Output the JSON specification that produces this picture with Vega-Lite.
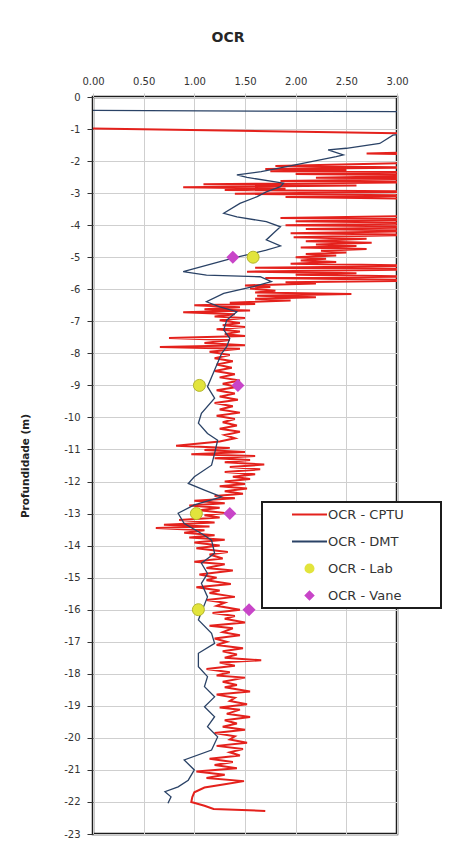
{
  "$schema": "https://vega.github.io/schema/vega-lite/v6.json",
  "width": 304,
  "height": 737,
  "autosize": {"type": "none"},
  "padding": {"left": 93, "top": 97, "right": 77, "bottom": 27},
  "background": "white",
  "title": {"text": "OCR", "font": "DejaVu Sans", "fontSize": 14, "fontWeight": "bold", "color": "#262626", "offset": 31, "dx": -17, "anchor": "middle"},
  "config": {
    "view": {"stroke": "#1c1c1c", "strokeWidth": 2.5},
    "axis": {"labelFont": "DejaVu Sans", "labelFontSize": 10, "labelColor": "#333333", "gridColor": "#cfcfcf", "gridWidth": 1, "domain": false}
  },
  "datasets": {
    "cptu": [
      {"depth": -0.98, "ocr": 0}, {"depth": -1.15, "ocr": 3.3}, {"depth": -1.3, "ocr": 3.6}, {"depth": -1.5, "ocr": 3.4},
      {"depth": -1.7, "ocr": 3.5}, {"depth": -1.76, "ocr": 2.7}, {"depth": -1.8, "ocr": 3.4}, {"depth": -1.95, "ocr": 3.6},
      {"depth": -2.05, "ocr": 3.2}, {"depth": -2.15, "ocr": 1.8}, {"depth": -2.2, "ocr": 3.3}, {"depth": -2.25, "ocr": 1.7},
      {"depth": -2.28, "ocr": 2.5}, {"depth": -2.32, "ocr": 1.75}, {"depth": -2.35, "ocr": 3.4}, {"depth": -2.4, "ocr": 2.0},
      {"depth": -2.45, "ocr": 3.5}, {"depth": -2.52, "ocr": 2.2}, {"depth": -2.55, "ocr": 3.6}, {"depth": -2.62, "ocr": 1.85},
      {"depth": -2.66, "ocr": 3.2}, {"depth": -2.72, "ocr": 1.09}, {"depth": -2.76, "ocr": 2.6}, {"depth": -2.82, "ocr": 0.89},
      {"depth": -2.86, "ocr": 1.9}, {"depth": -2.9, "ocr": 1.3}, {"depth": -2.95, "ocr": 3.4}, {"depth": -3.02, "ocr": 1.4},
      {"depth": -3.08, "ocr": 3.5}, {"depth": -3.12, "ocr": 1.9}, {"depth": -3.18, "ocr": 3.3}, {"depth": -3.3, "ocr": 3.6},
      {"depth": -3.5, "ocr": 3.8}, {"depth": -3.7, "ocr": 3.5}, {"depth": -3.78, "ocr": 1.85}, {"depth": -3.82, "ocr": 3.4},
      {"depth": -3.88, "ocr": 2.0}, {"depth": -3.93, "ocr": 3.5}, {"depth": -4.0, "ocr": 1.9}, {"depth": -4.05, "ocr": 3.6},
      {"depth": -4.12, "ocr": 2.1}, {"depth": -4.18, "ocr": 3.4}, {"depth": -4.25, "ocr": 1.95}, {"depth": -4.3, "ocr": 3.2},
      {"depth": -4.38, "ocr": 1.98}, {"depth": -4.42, "ocr": 2.7}, {"depth": -4.5, "ocr": 2.1}, {"depth": -4.55, "ocr": 2.75},
      {"depth": -4.6, "ocr": 2.2}, {"depth": -4.65, "ocr": 2.6}, {"depth": -4.7, "ocr": 2.05}, {"depth": -4.74, "ocr": 2.7},
      {"depth": -4.8, "ocr": 2.25}, {"depth": -4.85, "ocr": 2.5}, {"depth": -4.9, "ocr": 2.1}, {"depth": -4.95, "ocr": 2.4},
      {"depth": -5.0, "ocr": 2.0}, {"depth": -5.05, "ocr": 2.3}, {"depth": -5.1, "ocr": 2.05}, {"depth": -5.15, "ocr": 2.4},
      {"depth": -5.2, "ocr": 1.95}, {"depth": -5.27, "ocr": 3.4}, {"depth": -5.33, "ocr": 1.6}, {"depth": -5.38, "ocr": 3.3},
      {"depth": -5.45, "ocr": 1.52}, {"depth": -5.5, "ocr": 2.6}, {"depth": -5.55, "ocr": 2.0}, {"depth": -5.6, "ocr": 3.2},
      {"depth": -5.65, "ocr": 1.7}, {"depth": -5.72, "ocr": 3.5}, {"depth": -5.78, "ocr": 1.9}, {"depth": -5.82, "ocr": 2.2},
      {"depth": -5.88, "ocr": 1.5}, {"depth": -5.93, "ocr": 1.75}, {"depth": -5.98, "ocr": 1.55}, {"depth": -6.05, "ocr": 1.8},
      {"depth": -6.1, "ocr": 1.6}, {"depth": -6.15, "ocr": 2.55}, {"depth": -6.2, "ocr": 1.62}, {"depth": -6.25, "ocr": 2.2},
      {"depth": -6.3, "ocr": 1.6}, {"depth": -6.35, "ocr": 1.95}, {"depth": -6.42, "ocr": 1.35}, {"depth": -6.46, "ocr": 1.6},
      {"depth": -6.5, "ocr": 1.0}, {"depth": -6.56, "ocr": 1.45}, {"depth": -6.62, "ocr": 1.1}, {"depth": -6.66, "ocr": 1.55},
      {"depth": -6.72, "ocr": 0.89}, {"depth": -6.78, "ocr": 1.4}, {"depth": -6.85, "ocr": 1.2}, {"depth": -6.9, "ocr": 1.5},
      {"depth": -6.97, "ocr": 1.25}, {"depth": -7.05, "ocr": 1.45}, {"depth": -7.12, "ocr": 1.28}, {"depth": -7.18, "ocr": 1.5},
      {"depth": -7.25, "ocr": 1.22}, {"depth": -7.32, "ocr": 1.45}, {"depth": -7.4, "ocr": 1.3}, {"depth": -7.46, "ocr": 1.5},
      {"depth": -7.52, "ocr": 0.75}, {"depth": -7.58, "ocr": 1.35}, {"depth": -7.68, "ocr": 1.1}, {"depth": -7.75, "ocr": 1.5},
      {"depth": -7.8, "ocr": 0.66}, {"depth": -7.86, "ocr": 1.45}, {"depth": -7.95, "ocr": 1.15}, {"depth": -8.05, "ocr": 1.35},
      {"depth": -8.15, "ocr": 1.2}, {"depth": -8.25, "ocr": 1.38}, {"depth": -8.35, "ocr": 1.22}, {"depth": -8.45, "ocr": 1.37},
      {"depth": -8.55, "ocr": 1.2}, {"depth": -8.65, "ocr": 1.4}, {"depth": -8.75, "ocr": 1.25}, {"depth": -8.85, "ocr": 1.45},
      {"depth": -8.95, "ocr": 1.28}, {"depth": -9.05, "ocr": 1.42}, {"depth": -9.15, "ocr": 1.22}, {"depth": -9.25, "ocr": 1.4},
      {"depth": -9.35, "ocr": 1.25}, {"depth": -9.45, "ocr": 1.43}, {"depth": -9.55, "ocr": 1.2}, {"depth": -9.65, "ocr": 1.38},
      {"depth": -9.75, "ocr": 1.25}, {"depth": -9.85, "ocr": 1.45}, {"depth": -9.95, "ocr": 1.22}, {"depth": -10.05, "ocr": 1.4},
      {"depth": -10.15, "ocr": 1.28}, {"depth": -10.25, "ocr": 1.42}, {"depth": -10.35, "ocr": 1.25}, {"depth": -10.45, "ocr": 1.45},
      {"depth": -10.55, "ocr": 1.3}, {"depth": -10.65, "ocr": 1.4}, {"depth": -10.75, "ocr": 1.25}, {"depth": -10.88, "ocr": 0.82},
      {"depth": -10.95, "ocr": 1.35}, {"depth": -11.02, "ocr": 1.1}, {"depth": -11.08, "ocr": 1.5}, {"depth": -11.15, "ocr": 0.97},
      {"depth": -11.2, "ocr": 1.6}, {"depth": -11.27, "ocr": 1.2}, {"depth": -11.33, "ocr": 1.55}, {"depth": -11.4, "ocr": 1.3},
      {"depth": -11.47, "ocr": 1.69}, {"depth": -11.55, "ocr": 1.35}, {"depth": -11.62, "ocr": 1.65}, {"depth": -11.7, "ocr": 1.3},
      {"depth": -11.77, "ocr": 1.6}, {"depth": -11.85, "ocr": 1.38}, {"depth": -11.92, "ocr": 1.55}, {"depth": -12.0, "ocr": 1.3},
      {"depth": -12.08, "ocr": 1.5}, {"depth": -12.15, "ocr": 1.25}, {"depth": -12.22, "ocr": 1.52}, {"depth": -12.3, "ocr": 1.3},
      {"depth": -12.38, "ocr": 1.48}, {"depth": -12.45, "ocr": 1.2}, {"depth": -12.52, "ocr": 1.4}, {"depth": -12.6, "ocr": 1.0},
      {"depth": -12.68, "ocr": 1.3}, {"depth": -12.75, "ocr": 0.95}, {"depth": -12.82, "ocr": 1.25}, {"depth": -12.9, "ocr": 1.05},
      {"depth": -12.98, "ocr": 1.3}, {"depth": -13.05, "ocr": 1.1}, {"depth": -13.12, "ocr": 1.25}, {"depth": -13.2, "ocr": 0.85},
      {"depth": -13.28, "ocr": 1.2}, {"depth": -13.35, "ocr": 0.7}, {"depth": -13.4, "ocr": 1.15}, {"depth": -13.45, "ocr": 0.62},
      {"depth": -13.52, "ocr": 1.1}, {"depth": -13.6, "ocr": 0.9}, {"depth": -13.68, "ocr": 1.2}, {"depth": -13.75, "ocr": 0.95},
      {"depth": -13.82, "ocr": 1.3}, {"depth": -13.9, "ocr": 1.0}, {"depth": -14.0, "ocr": 1.25}, {"depth": -14.08, "ocr": 1.02},
      {"depth": -14.2, "ocr": 1.33}, {"depth": -14.28, "ocr": 1.15}, {"depth": -14.4, "ocr": 1.28}, {"depth": -14.5, "ocr": 1.0},
      {"depth": -14.58, "ocr": 1.3}, {"depth": -14.7, "ocr": 1.12}, {"depth": -14.78, "ocr": 1.38}, {"depth": -14.9, "ocr": 1.05},
      {"depth": -15.0, "ocr": 1.22}, {"depth": -15.08, "ocr": 1.12}, {"depth": -15.2, "ocr": 1.36}, {"depth": -15.3, "ocr": 1.02},
      {"depth": -15.4, "ocr": 1.25}, {"depth": -15.48, "ocr": 1.15}, {"depth": -15.6, "ocr": 1.4}, {"depth": -15.7, "ocr": 1.12},
      {"depth": -15.78, "ocr": 1.3}, {"depth": -15.88, "ocr": 1.22}, {"depth": -16.0, "ocr": 1.45}, {"depth": -16.1, "ocr": 1.18},
      {"depth": -16.2, "ocr": 1.4}, {"depth": -16.28, "ocr": 1.3}, {"depth": -16.4, "ocr": 1.5}, {"depth": -16.5, "ocr": 1.15},
      {"depth": -16.58, "ocr": 1.38}, {"depth": -16.7, "ocr": 1.28}, {"depth": -16.8, "ocr": 1.45}, {"depth": -16.9, "ocr": 1.2},
      {"depth": -17.0, "ocr": 1.32}, {"depth": -17.1, "ocr": 1.22}, {"depth": -17.2, "ocr": 1.48}, {"depth": -17.3, "ocr": 1.28},
      {"depth": -17.4, "ocr": 1.42}, {"depth": -17.5, "ocr": 1.3}, {"depth": -17.58, "ocr": 1.66}, {"depth": -17.65, "ocr": 1.25},
      {"depth": -17.75, "ocr": 1.4}, {"depth": -17.85, "ocr": 1.12}, {"depth": -17.95, "ocr": 1.35}, {"depth": -18.05, "ocr": 1.22},
      {"depth": -18.12, "ocr": 1.5}, {"depth": -18.25, "ocr": 1.28}, {"depth": -18.35, "ocr": 1.42}, {"depth": -18.42, "ocr": 1.3},
      {"depth": -18.55, "ocr": 1.55}, {"depth": -18.65, "ocr": 1.22}, {"depth": -18.75, "ocr": 1.4}, {"depth": -18.85, "ocr": 1.35},
      {"depth": -18.95, "ocr": 1.52}, {"depth": -19.05, "ocr": 1.25}, {"depth": -19.12, "ocr": 1.45}, {"depth": -19.25, "ocr": 1.32},
      {"depth": -19.35, "ocr": 1.55}, {"depth": -19.45, "ocr": 1.3}, {"depth": -19.55, "ocr": 1.42}, {"depth": -19.65, "ocr": 1.28},
      {"depth": -19.75, "ocr": 1.5}, {"depth": -19.85, "ocr": 1.2}, {"depth": -19.95, "ocr": 1.4}, {"depth": -20.05, "ocr": 1.35},
      {"depth": -20.15, "ocr": 1.52}, {"depth": -20.25, "ocr": 1.22}, {"depth": -20.35, "ocr": 1.48}, {"depth": -20.45, "ocr": 1.35},
      {"depth": -20.55, "ocr": 1.45}, {"depth": -20.65, "ocr": 1.15}, {"depth": -20.75, "ocr": 1.38}, {"depth": -20.85, "ocr": 1.2},
      {"depth": -20.95, "ocr": 1.42}, {"depth": -21.05, "ocr": 1.02}, {"depth": -21.15, "ocr": 1.3}, {"depth": -21.25, "ocr": 1.12},
      {"depth": -21.35, "ocr": 1.49}, {"depth": -21.45, "ocr": 1.3}, {"depth": -21.55, "ocr": 1.1}, {"depth": -21.7, "ocr": 1.0},
      {"depth": -21.85, "ocr": 0.98}, {"depth": -22.0, "ocr": 0.97}, {"depth": -22.12, "ocr": 1.1}, {"depth": -22.22, "ocr": 1.19},
      {"depth": -22.28, "ocr": 1.7}
    ],
    "dmt": [
      {"depth": -0.42, "ocr": 0}, {"depth": -0.47, "ocr": 4.0}, {"depth": -0.9, "ocr": 3.6}, {"depth": -1.19, "ocr": 2.96},
      {"depth": -1.45, "ocr": 2.83}, {"depth": -1.6, "ocr": 2.5}, {"depth": -1.65, "ocr": 2.32}, {"depth": -1.81, "ocr": 2.47},
      {"depth": -1.86, "ocr": 2.4}, {"depth": -2.17, "ocr": 1.91}, {"depth": -2.33, "ocr": 1.66}, {"depth": -2.43, "ocr": 1.42},
      {"depth": -2.51, "ocr": 1.52}, {"depth": -2.69, "ocr": 1.88}, {"depth": -2.8, "ocr": 1.85}, {"depth": -2.96, "ocr": 1.71},
      {"depth": -3.11, "ocr": 1.62}, {"depth": -3.32, "ocr": 1.45}, {"depth": -3.63, "ocr": 1.29}, {"depth": -3.74, "ocr": 1.42},
      {"depth": -3.89, "ocr": 1.71}, {"depth": -4.05, "ocr": 1.85}, {"depth": -4.25, "ocr": 1.78}, {"depth": -4.46, "ocr": 1.71},
      {"depth": -4.65, "ocr": 1.85}, {"depth": -4.78, "ocr": 1.71}, {"depth": -4.88, "ocr": 1.58}, {"depth": -5.03, "ocr": 1.38},
      {"depth": -5.19, "ocr": 1.19}, {"depth": -5.45, "ocr": 0.89}, {"depth": -5.56, "ocr": 1.12}, {"depth": -5.61, "ocr": 1.65},
      {"depth": -5.76, "ocr": 1.76}, {"depth": -5.92, "ocr": 1.58}, {"depth": -6.13, "ocr": 1.29}, {"depth": -6.39, "ocr": 1.12},
      {"depth": -6.55, "ocr": 1.25}, {"depth": -6.7, "ocr": 1.42}, {"depth": -6.96, "ocr": 1.32}, {"depth": -7.27, "ocr": 1.29},
      {"depth": -7.53, "ocr": 1.35}, {"depth": -7.79, "ocr": 1.32}, {"depth": -8.0, "ocr": 1.27}, {"depth": -8.52, "ocr": 1.2},
      {"depth": -9.04, "ocr": 1.13}, {"depth": -9.4, "ocr": 1.2}, {"depth": -9.87, "ocr": 1.07}, {"depth": -10.18, "ocr": 1.04},
      {"depth": -10.5, "ocr": 1.13}, {"depth": -10.71, "ocr": 1.23}, {"depth": -11.12, "ocr": 1.2}, {"depth": -11.49, "ocr": 1.17},
      {"depth": -11.85, "ocr": 1.0}, {"depth": -12.06, "ocr": 0.94}, {"depth": -12.27, "ocr": 1.1}, {"depth": -12.48, "ocr": 1.27},
      {"depth": -12.73, "ocr": 1.0}, {"depth": -12.99, "ocr": 0.84}, {"depth": -13.31, "ocr": 0.9}, {"depth": -13.62, "ocr": 1.07},
      {"depth": -13.83, "ocr": 1.17}, {"depth": -14.24, "ocr": 1.2}, {"depth": -14.55, "ocr": 1.07}, {"depth": -14.87, "ocr": 1.13},
      {"depth": -15.18, "ocr": 1.07}, {"depth": -15.6, "ocr": 1.13}, {"depth": -16.32, "ocr": 1.04}, {"depth": -16.74, "ocr": 1.17},
      {"depth": -17.05, "ocr": 1.2}, {"depth": -17.36, "ocr": 1.04}, {"depth": -17.78, "ocr": 1.04}, {"depth": -18.09, "ocr": 1.13},
      {"depth": -18.4, "ocr": 1.1}, {"depth": -18.72, "ocr": 1.2}, {"depth": -19.03, "ocr": 1.1}, {"depth": -19.34, "ocr": 1.2},
      {"depth": -19.65, "ocr": 1.13}, {"depth": -19.97, "ocr": 1.23}, {"depth": -20.38, "ocr": 1.17}, {"depth": -20.69, "ocr": 0.9},
      {"depth": -21.0, "ocr": 1.0}, {"depth": -21.32, "ocr": 0.94}, {"depth": -21.53, "ocr": 0.84}, {"depth": -21.68, "ocr": 0.71},
      {"depth": -21.84, "ocr": 0.77}, {"depth": -22.04, "ocr": 0.74}
    ],
    "lab": [
      {"depth": -5.0, "ocr": 1.58}, {"depth": -9.0, "ocr": 1.05}, {"depth": -13.0, "ocr": 1.02}, {"depth": -16.0, "ocr": 1.04}
    ],
    "vane": [
      {"depth": -5.0, "ocr": 1.38}, {"depth": -9.0, "ocr": 1.43}, {"depth": -13.0, "ocr": 1.35}, {"depth": -16.0, "ocr": 1.54}
    ]
  },
  "encoding": {
    "x": {
      "field": "ocr", "type": "quantitative",
      "scale": {"domain": [0, 3], "nice": false, "zero": false},
      "axis": {"orient": "top", "title": null, "values": [0, 0.5, 1, 1.5, 2, 2.5, 3], "format": ".2f", "tickSize": 4, "tickColor": "#c8c8c8", "labelPadding": 7, "labelFlush": false, "grid": true}
    },
    "y": {
      "field": "depth", "type": "quantitative",
      "scale": {"domain": [-23, 0], "nice": false, "zero": false},
      "axis": {
        "title": "Profundidade (m)", "titleFont": "DejaVu Sans", "titleFontSize": 10.5, "titleFontWeight": "bold", "titleColor": "#222222", "titlePadding": 33,
        "values": [0, -1, -2, -3, -4, -5, -6, -7, -8, -9, -10, -11, -12, -13, -14, -15, -16, -17, -18, -19, -20, -21, -22, -23],
        "labelExpr": "datum.value == 0 ? '0' : '-' + abs(datum.value)",
        "tickSize": 6, "tickColor": "#333333", "labelPadding": 7, "labelOverlap": false, "grid": true
      }
    }
  },
  "layer": [
    {
      "data": {"name": "cptu"},
      "mark": {"type": "line", "clip": true, "strokeWidth": 2},
      "encoding": {
        "order": {"field": "depth", "sort": "descending"},
        "color": {
          "datum": "OCR - CPTU",
          "scale": {"domain": ["OCR - CPTU", "OCR - DMT", "OCR - Lab", "OCR - Vane"], "range": ["#e4211c", "#2a4266", "#e2e43c", "#c845c8"]},
          "legend": {
            "orient": "none", "legendX": 169, "legendY": 405, "title": null,
            "padding": 0, "symbolSize": 1225, "symbolStrokeWidth": 2, "symbolOffset": 29, "labelOffset": 0,
            "clipHeight": 25, "rowPadding": 2,
            "fillColor": "white", "strokeColor": "#1c1c1c",
            "labelFont": "DejaVu Sans", "labelFontSize": 13, "labelColor": "#333333",
            "labelExpr": "datum.label + '\u00a0\u00a0\u00a0\u00a0\u00a0\u00a0\u00a0\u00a0\u00a0\u200b'",
            "encode": {
              "legend": {"update": {"strokeWidth": {"value": 2}}},
              "symbols": {
                "update": {
                  "shape": {"signal": "datum.value === 'OCR - Lab' ? 'M -0.23 0 A 0.23 0.23 0 1 0 0.23 0 A 0.23 0.23 0 1 0 -0.23 0 Z' : datum.value === 'OCR - Vane' ? 'M 0 -0.22 L 0.22 0 L 0 0.22 L -0.22 0 Z' : 'stroke'"},
                  "fill": {"signal": "datum.value === 'OCR - Lab' ? '#e2e43c' : datum.value === 'OCR - Vane' ? '#c845c8' : 'transparent'"},
                  "stroke": {"signal": "datum.value === 'OCR - CPTU' ? '#e4211c' : datum.value === 'OCR - DMT' ? '#2a4266' : datum.value === 'OCR - Lab' ? '#b4b62c' : 'transparent'"},
                  "opacity": {"value": 1}
                }
              }
            }
          }
        }
      }
    },
    {
      "data": {"name": "dmt"},
      "mark": {"type": "line", "clip": true, "strokeWidth": 1.3},
      "encoding": {
        "order": {"field": "depth", "sort": "descending"},
        "color": {"datum": "OCR - DMT"}
      }
    },
    {
      "data": {"name": "lab"},
      "mark": {"type": "point", "shape": "circle", "filled": true, "size": 144, "stroke": "#b4b62c", "strokeWidth": 1, "opacity": 1},
      "encoding": {"color": {"datum": "OCR - Lab"}}
    },
    {
      "data": {"name": "vane"},
      "mark": {"type": "point", "shape": "diamond", "filled": true, "size": 170, "opacity": 1},
      "encoding": {"color": {"datum": "OCR - Vane"}}
    }
  ]
}
